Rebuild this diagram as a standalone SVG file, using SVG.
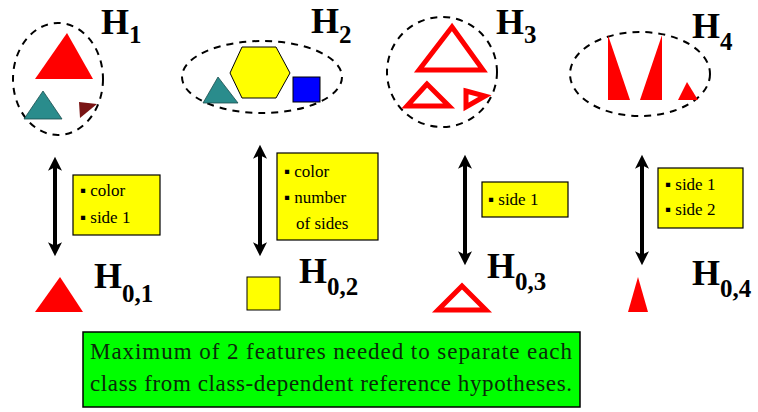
<svg xmlns="http://www.w3.org/2000/svg" width="758" height="412" viewBox="0 0 758 412">
<defs>
<style>
text{font-family:"Liberation Serif","Times New Roman","DejaVu Serif",serif}
.ell{fill:none;stroke:#000;stroke-width:2;stroke-dasharray:7 6}
.lbl{font-size:36px;font-weight:bold;fill:#000}
.sub{font-size:25px}
.box{fill:#ffff00;stroke:#000;stroke-width:1.2}
.bt{font-size:17px;fill:#000}
.red{fill:#ff0000}
.redo{fill:none;stroke:#ff0000;stroke-width:5;stroke-linejoin:miter}
.teal{fill:#2a8c8c;stroke:#1a4d4d;stroke-width:0.8}
.arr{stroke:#000;stroke-width:4;fill:none;marker-start:url(#ah);marker-end:url(#ah)}
.note{font-size:23px;fill:#0a2a0a}
</style>
<marker id="ah" viewBox="0 0 10 10" refX="7" refY="5" markerWidth="5" markerHeight="3.5" orient="auto-start-reverse" markerUnits="strokeWidth">
<path d="M0,0 L10,5 L0,10 L2.5,5 Z" fill="#000"/>
</marker>
</defs>
<rect width="758" height="412" fill="#fff"/>

<g id="H1">
<ellipse class="ell" cx="58" cy="79" rx="45" ry="56"/>
<polygon class="red" points="67,33 35,79 93,79"/>
<polygon class="teal" points="43,91 24,119 62,119"/>
<polygon fill="#7a1414" points="79,102 97,104 80,118"/>
<text class="lbl" x="101" y="34">H<tspan class="sub" dy="9">1</tspan></text>
</g>

<g id="H2">
<ellipse class="ell" cx="262" cy="77" rx="80" ry="36"/>
<polygon fill="#ffff00" stroke="#000" stroke-width="1" points="242,47 276,47 290,73 276,98 242,98 230,73"/>
<polygon class="teal" points="218,77 203,103 238,103"/>
<rect x="293" y="77" width="27" height="25" fill="#0000ff" stroke="#000" stroke-width="1"/>
<text class="lbl" x="311" y="33">H<tspan class="sub" dy="10">2</tspan></text>
</g>

<g id="H3">
<ellipse class="ell" cx="442" cy="72" rx="55" ry="55"/>
<polygon class="redo" points="452,27 419,70 483,70"/>
<polygon class="redo" points="427,84 407,106 449,106"/>
<polygon class="redo" points="466,91 485,96 466,107"/>
<text class="lbl" x="496" y="34">H<tspan class="sub" dy="9">3</tspan></text>
</g>

<g id="H4">
<ellipse class="ell" cx="640" cy="74" rx="70" ry="42"/>
<polygon class="red" points="608,35 608,100 630,100"/>
<polygon class="red" points="662,35 662,100 640,100"/>
<polygon class="red" points="687,82 678,100 698,100"/>
<text class="lbl" x="692" y="38">H<tspan class="sub" dy="12">4</tspan></text>
</g>

<g id="connectors">
<line class="arr" x1="55" y1="161" x2="55" y2="252"/>
<line class="arr" x1="260" y1="149" x2="260" y2="252"/>
<line class="arr" x1="465" y1="159" x2="465" y2="261"/>
<line class="arr" x1="642" y1="159" x2="642" y2="261"/>
</g>

<g id="F1">
<rect class="box" x="73" y="175" width="87" height="60"/>
<text class="bt" x="80" y="196">▪ color</text>
<text class="bt" x="80" y="223">▪ side 1</text>
</g>
<g id="F2">
<rect class="box" x="277" y="153" width="101" height="87"/>
<text class="bt" x="284" y="177">▪ color</text>
<text class="bt" x="284" y="203">▪ number</text>
<text class="bt" x="296" y="229">of sides</text>
</g>
<g id="F3">
<rect class="box" x="482" y="182" width="86" height="35"/>
<text class="bt" x="488" y="205">▪ side 1</text>
</g>
<g id="F4">
<rect class="box" x="658" y="168" width="85" height="60"/>
<text class="bt" x="665" y="190">▪ side 1</text>
<text class="bt" x="665" y="215">▪ side 2</text>
</g>

<g id="H01">
<polygon class="red" points="60,277 35,312 83,312"/>
<text class="lbl" x="94" y="288">H<tspan class="sub" dy="14">0,1</tspan></text>
</g>
<g id="H02">
<rect x="247" y="277" width="33" height="33" fill="#ffff00" stroke="#000" stroke-width="1"/>
<text class="lbl" x="299" y="283">H<tspan class="sub" dy="12">0,2</tspan></text>
</g>
<g id="H03">
<polygon class="redo" points="462,286 438,310 486,310"/>
<text class="lbl" x="487" y="278">H<tspan class="sub" dy="12">0,3</tspan></text>
</g>
<g id="H04">
<polygon class="red" points="638,277 628,312 648,312"/>
<text class="lbl" x="692" y="285">H<tspan class="sub" dy="12">0,4</tspan></text>
</g>

<g id="note">
<rect x="83" y="332" width="497" height="75" fill="#00ff00" stroke="#000" stroke-width="1.5"/>
<text class="note" x="90" y="359" textLength="482" lengthAdjust="spacing">Maximum of 2 features needed to separate each</text>
<text class="note" x="90" y="391" textLength="482" lengthAdjust="spacing">class from class-dependent reference hypotheses.</text>
</g>
</svg>
